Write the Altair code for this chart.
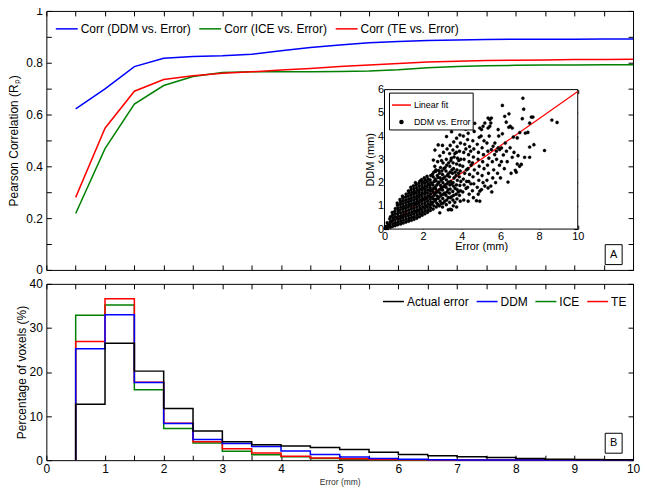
import altair as alt
import pandas as pd

FONT = "Liberation Sans"
BLUE, GREEN, RED, BLACK = "#0000ff", "#008000", "#ff0000", "#000000"

# ---------------- Panel A : correlation curves ----------------
err_levels = [0.5, 1.0, 1.5, 2.0, 2.5, 3.0, 3.5, 4.0, 4.5, 5.0,
              5.5, 6.0, 6.5, 7.0, 7.5, 8.0, 8.5, 9.0, 9.5, 10.0]
corr_ddm = [0.622, 0.699, 0.785, 0.817, 0.824, 0.827, 0.833, 0.846, 0.859, 0.868,
            0.877, 0.882, 0.886, 0.888, 0.890, 0.891, 0.891, 0.891, 0.892, 0.892]
corr_ice = [0.218, 0.468, 0.640, 0.712, 0.747, 0.762, 0.765, 0.765, 0.765, 0.766,
            0.768, 0.773, 0.781, 0.785, 0.788, 0.790, 0.791, 0.791, 0.792, 0.792]
corr_te = [0.280, 0.547, 0.690, 0.735, 0.750, 0.759, 0.765, 0.772, 0.778, 0.785,
           0.791, 0.797, 0.803, 0.806, 0.809, 0.810, 0.811, 0.812, 0.812, 0.813]
corr_names = ["Corr (DDM vs. Error)", "Corr (ICE vs. Error)", "Corr (TE vs. Error)"]
corr_colors = [BLUE, GREEN, RED]
corr_draw_order = ["Corr (ICE vs. Error)", "Corr (TE vs. Error)", "Corr (DDM vs. Error)"]

# ---------------- Inset : DDM vs. Error scatter ----------------
scatter_points = [
    (0.04, 0.03), (0.07, 0.11), (0.15, 0.05), (0.17, 0.16), (0.14, 0.27),
    (0.30, 0.08), (0.28, 0.20), (0.30, 0.32), (0.27, 0.44), (0.31, 0.53),
    (0.42, 0.12), (0.43, 0.24), (0.41, 0.36), (0.44, 0.48), (0.42, 0.60), (0.40, 0.71),
    (0.55, 0.15), (0.56, 0.27), (0.54, 0.40), (0.57, 0.52), (0.55, 0.64), (0.53, 0.76), (0.56, 0.88),
    (0.68, 0.19), (0.70, 0.31), (0.69, 0.43), (0.71, 0.55), (0.68, 0.67), (0.70, 0.79), (0.69, 0.91),
    (0.67, 1.03), (0.66, 1.12),
    (0.83, 0.22), (0.84, 0.34), (0.82, 0.46), (0.85, 0.58), (0.83, 0.70), (0.81, 0.82), (0.84, 0.94),
    (0.82, 1.06), (0.83, 1.18), (0.80, 1.27),
    (0.97, 0.26), (0.98, 0.38), (0.96, 0.50), (0.99, 0.62), (0.97, 0.74), (0.95, 0.86), (0.98, 0.98),
    (0.96, 1.10), (0.97, 1.22), (0.95, 1.34), (0.93, 1.42),
    (1.11, 0.30), (1.12, 0.42), (1.10, 0.54), (1.13, 0.66), (1.11, 0.78), (1.09, 0.90), (1.12, 1.02),
    (1.10, 1.14), (1.11, 1.26), (1.09, 1.38), (1.12, 1.50),
    (1.25, 0.34), (1.26, 0.46), (1.24, 0.58), (1.27, 0.70), (1.25, 0.82), (1.23, 0.94), (1.26, 1.06),
    (1.24, 1.18), (1.25, 1.30), (1.23, 1.42), (1.26, 1.54), (1.24, 1.64),
    (1.39, 0.38), (1.40, 0.50), (1.38, 0.62), (1.41, 0.74), (1.39, 0.86), (1.37, 0.98), (1.40, 1.10),
    (1.38, 1.22), (1.39, 1.34), (1.37, 1.46), (1.40, 1.58), (1.38, 1.70), (1.36, 1.80),
    (1.53, 0.42), (1.54, 0.54), (1.52, 0.66), (1.55, 0.78), (1.53, 0.90), (1.51, 1.02), (1.54, 1.14),
    (1.52, 1.26), (1.53, 1.38), (1.51, 1.50), (1.54, 1.62), (1.52, 1.74), (1.50, 1.86),
    (1.67, 0.47), (1.68, 0.59), (1.66, 0.71), (1.69, 0.83), (1.67, 0.95), (1.65, 1.07), (1.68, 1.19),
    (1.66, 1.31), (1.67, 1.43), (1.65, 1.55), (1.68, 1.67), (1.66, 1.79), (1.64, 1.91), (1.60, 2.00),
    (1.81, 0.53), (1.82, 0.65), (1.80, 0.77), (1.83, 0.89), (1.81, 1.01), (1.79, 1.13), (1.82, 1.25),
    (1.80, 1.37), (1.81, 1.49), (1.79, 1.61), (1.82, 1.73), (1.80, 1.85), (1.78, 1.97), (1.83, 2.06),
    (1.95, 0.60), (1.96, 0.72), (1.94, 0.84), (1.97, 0.96), (1.95, 1.08), (1.93, 1.20), (1.96, 1.32),
    (1.94, 1.44), (1.95, 1.56), (1.93, 1.68), (1.96, 1.80), (1.94, 1.92), (1.97, 2.04), (1.92, 2.13),
    (2.09, 0.66), (2.10, 0.78), (2.08, 0.90), (2.11, 1.02), (2.09, 1.14), (2.07, 1.26), (2.10, 1.38),
    (2.08, 1.50), (2.09, 1.62), (2.07, 1.74), (2.10, 1.86), (2.08, 1.98), (2.11, 2.10), (2.06, 2.20),
    (2.23, 0.72), (2.24, 0.84), (2.22, 0.96), (2.25, 1.08), (2.23, 1.20), (2.21, 1.32), (2.24, 1.44),
    (2.22, 1.56), (2.23, 1.68), (2.21, 1.80), (2.24, 1.92), (2.22, 2.04), (2.25, 2.16), (2.20, 2.27),
    (2.37, 0.80), (2.38, 0.92), (2.36, 1.04), (2.39, 1.16), (2.37, 1.28), (2.35, 1.40), (2.38, 1.52),
    (2.36, 1.64), (2.37, 1.76), (2.35, 1.88), (2.38, 2.00), (2.36, 2.12), (2.39, 2.30),
    (2.52, 0.86), (2.55, 1.00), (2.50, 1.15), (2.53, 1.30), (2.56, 1.45), (2.51, 1.60), (2.54, 1.75),
    (2.50, 1.90), (2.57, 2.05), (2.52, 2.25), (2.55, 2.45), (2.60, 2.70), (2.53, 2.97), (2.61, 3.40),
    (2.45, 1.08), (2.46, 1.38), (2.47, 1.68), (2.45, 1.98), (2.48, 2.35), (2.62, 1.22), (2.61, 1.52),
    (2.63, 1.82), (2.62, 2.15), (2.64, 2.48),
    (2.68, 0.95), (2.70, 1.12), (2.66, 1.28), (2.72, 1.42), (2.69, 1.58), (2.65, 1.72), (2.71, 1.90),
    (2.67, 2.08), (2.73, 2.30), (2.66, 2.55), (2.75, 2.90), (2.78, 3.62),
    (2.77, 1.05), (2.78, 1.32), (2.76, 1.62), (2.79, 1.98), (2.77, 2.22), (2.80, 2.52),
    (2.86, 0.70), (2.84, 1.00), (2.88, 1.20), (2.83, 1.38), (2.87, 1.55), (2.85, 1.70), (2.90, 1.88),
    (2.82, 2.02), (2.88, 2.20), (2.84, 2.40), (2.90, 2.65), (2.86, 3.15),
    (2.94, 1.10), (2.93, 1.45), (2.95, 1.78), (2.94, 2.10), (2.96, 2.50), (2.95, 2.95),
    (3.00, 0.95), (3.04, 1.12), (3.01, 1.32), (3.05, 1.50), (3.00, 1.68), (3.06, 1.82), (3.02, 2.00),
    (3.04, 2.18), (3.00, 2.35), (3.07, 2.60), (3.03, 2.85), (3.05, 3.30), (3.00, 3.60),
    (3.12, 1.20), (3.11, 1.55), (3.13, 1.90), (3.12, 2.25), (3.14, 2.65),
    (3.20, 1.05), (3.22, 1.25), (3.18, 1.45), (3.24, 1.60), (3.19, 1.80), (3.23, 1.95), (3.20, 2.12),
    (3.25, 2.30), (3.18, 2.50), (3.22, 2.75), (3.20, 3.00), (3.24, 3.45), (3.21, 3.98), (3.30, 0.83),
    (3.30, 1.35), (3.29, 1.70), (3.31, 2.02), (3.30, 2.38), (3.32, 2.85),
    (3.40, 0.85), (3.37, 1.15), (3.41, 1.35), (3.36, 1.55), (3.40, 1.72), (3.38, 1.90), (3.42, 2.05),
    (3.36, 2.25), (3.40, 2.45), (3.38, 2.70), (3.43, 2.95), (3.37, 3.25), (3.40, 3.60), (3.47, 0.83),
    (3.56, 1.00), (3.54, 1.25), (3.58, 1.45), (3.53, 1.62), (3.57, 1.85), (3.55, 2.00), (3.60, 2.20),
    (3.52, 2.40), (3.57, 2.60), (3.55, 2.85), (3.60, 3.10), (3.54, 3.40), (3.47, 4.19), (3.58, 3.75),
    (3.56, 4.41), (3.48, 1.40), (3.47, 1.95), (3.49, 2.55), (3.46, 3.05),
    (3.73, 0.95), (3.75, 1.30), (3.71, 1.50), (3.76, 1.70), (3.72, 1.90), (3.77, 2.10), (3.70, 2.30),
    (3.75, 2.55), (3.73, 2.80), (3.78, 3.05), (3.72, 3.30), (3.73, 3.91), (3.76, 3.55),
    (3.64, 1.15), (3.65, 1.75), (3.66, 2.45), (3.64, 3.25), (3.82, 1.60), (3.83, 2.40), (3.84, 2.95),
    (3.92, 1.20), (3.88, 1.45), (3.93, 1.65), (3.90, 1.88), (3.95, 2.05), (3.87, 2.25), (3.92, 2.50),
    (3.90, 2.75), (3.95, 3.00), (3.88, 3.35), (3.99, 4.48), (3.93, 3.70), (3.90, 4.05),
    (4.10, 1.25), (4.05, 1.60), (4.12, 1.90), (4.08, 2.15), (4.15, 2.40), (4.05, 2.70), (4.12, 3.00),
    (4.10, 3.30), (4.15, 3.65), (4.08, 4.00), (4.20, 4.30), (4.16, 4.48),
    (4.22, 1.75), (4.24, 2.55), (4.21, 3.45), (4.25, 2.05),
    (4.33, 1.20), (4.38, 1.50), (4.30, 1.80), (4.36, 2.05), (4.40, 2.35), (4.32, 2.60), (4.38, 2.90),
    (4.35, 3.20), (4.33, 4.12), (4.40, 3.55), (4.30, 3.85),
    (4.47, 1.95), (4.48, 2.75), (4.46, 3.35), (4.50, 4.35),
    (4.60, 1.35), (4.55, 1.65), (4.62, 1.95), (4.58, 2.25), (4.65, 2.55), (4.55, 2.85), (4.60, 3.10),
    (4.67, 4.55), (4.62, 3.45), (4.57, 3.80), (4.64, 4.20),
    (4.76, 1.22), (4.85, 1.50), (4.80, 1.80), (4.88, 2.10), (4.82, 2.40), (4.90, 2.70), (4.84, 3.00),
    (4.86, 3.30), (4.93, 4.35), (4.80, 3.65), (4.90, 3.95), (4.93, 1.63), (4.93, 1.20),
    (5.02, 1.70), (5.10, 2.00), (5.05, 2.30), (5.15, 2.60), (5.08, 2.90), (5.12, 3.20), (5.02, 4.28),
    (5.10, 4.42), (5.19, 4.56), (5.05, 3.50), (5.15, 3.80), (5.19, 1.85), (5.00, 4.00),
    (5.36, 1.77), (5.30, 2.10), (5.38, 2.40), (5.33, 2.75), (5.40, 3.05), (5.35, 3.35), (5.36, 4.78),
    (5.45, 4.71), (5.50, 4.56), (5.45, 4.42), (5.36, 4.35), (5.30, 3.70), (5.42, 4.00), (5.50, 1.85),
    (5.53, 4.78), (5.53, 3.42), (5.62, 3.56), (5.71, 3.70), (5.60, 2.20), (5.65, 2.55), (5.58, 2.90),
    (5.70, 3.20), (5.55, 1.60), (5.75, 2.00),
    (5.88, 3.49), (5.96, 3.42), (6.05, 3.49), (5.79, 3.35), (5.88, 4.28), (5.91, 4.00), (5.85, 2.40),
    (5.95, 2.75), (5.80, 3.00), (6.00, 2.20),
    (7.16, 5.63), (6.10, 5.32), (7.20, 5.16), (6.22, 4.85), (6.44, 4.96), (7.13, 4.75), (7.60, 4.82),
    (7.68, 4.82), (8.66, 4.69), (8.93, 4.59), (7.51, 4.56), (6.43, 4.38), (6.51, 4.42), (6.61, 4.35),
    (7.00, 4.15), (7.29, 4.13), (7.42, 4.16), (6.87, 3.92), (6.67, 3.96), (7.73, 3.63), (7.51, 3.53),
    (8.28, 3.38), (7.25, 3.09), (7.51, 3.09), (6.91, 3.16), (6.87, 2.80), (6.99, 2.70), (7.08, 2.78),
    (6.82, 2.45), (6.77, 2.53), (6.39, 2.02), (6.15, 3.19), (6.61, 3.09), (6.31, 3.35),
    (6.20, 2.60), (6.35, 2.90), (6.50, 3.50), (6.25, 3.70), (6.70, 3.30), (6.10, 4.10), (6.30, 4.60),
    (6.55, 2.40), (6.05, 2.90),
]
fit_err = [0.0, 10.0]
fit_ddm = [0.08, 5.92]
inset_kinds = ["Linear fit", "DDM vs. Error"]
inset_limits = {"x0": [0.0], "x1": [10.0], "y0": [0.0], "y1": [6.0]}

# ---------------- Panel B : histograms ----------------
hist_bin_left = [0.5, 1.0, 1.5, 2.0, 2.5, 3.0, 3.5, 4.0, 4.5, 5.0,
                 5.5, 6.0, 6.5, 7.0, 7.5, 8.0, 8.5, 9.0, 9.5]
hist_actual = [12.7, 26.5, 20.2, 11.7, 6.6, 4.2, 3.5, 3.2, 2.9, 2.4,
               1.8, 1.3, 1.0, 0.8, 0.6, 0.4, 0.2, 0.15, 0.1]
hist_ddm = [25.3, 33.0, 17.6, 8.3, 4.7, 3.8, 3.1, 2.1, 1.3, 0.7,
            0.4, 0.2, 0.1, 0.05, 0.05, 0.03, 0.02, 0.01, 0.01]
hist_ice = [32.9, 35.2, 16.0, 7.2, 3.9, 2.0, 1.2, 0.75, 0.4, 0.2,
            0.1, 0.05, 0.03, 0.02, 0.01, 0.01, 0.0, 0.0, 0.0]
hist_te = [26.9, 36.6, 17.7, 8.4, 4.2, 2.6, 1.6, 0.9, 0.5, 0.3,
           0.15, 0.1, 0.05, 0.03, 0.02, 0.01, 0.01, 0.0, 0.0]
hist_names = ["Actual error", "DDM", "ICE", "TE"]
hist_colors = [BLACK, BLUE, GREEN, RED]
hist_draw_order = ["ICE", "TE", "DDM", "Actual error"]

# tick positions
x_ticks_half = [0, 0.5, 1, 1.5, 2, 2.5, 3, 3.5, 4, 4.5, 5, 5.5, 6, 6.5, 7, 7.5, 8, 8.5, 9, 9.5, 10]
y_ticks_corr = [0, 0.1, 0.2, 0.3, 0.4, 0.5, 0.6, 0.7, 0.8, 0.9, 1.0]
y_ticks_pct = [0, 10, 20, 30, 40]
inset_x_ticks = [0, 2, 4, 6, 8, 10]
inset_y_ticks = [0, 1, 2, 3, 4, 5, 6]

panel_a = {"x": [9.67], "y": [0.059], "t": ["A"]}
panel_b = {"x": [9.67], "y": [3.84], "t": ["B"]}

# ---------------- layout constants ----------------
W, HT, HB = 589, 260, 177
LINE_SYM = "M-1,0H1"
DOT_SYM = "M-0.16,0A0.16,0.16,0,1,0,0.16,0A0.16,0.16,0,1,0,-0.16,0Z"
BOX_SYM = "M-0.85,-1H0.85V1H-0.85Z"


def ax(orient, values, labels=True, offset=-5, tick=5, **kw):
    d = dict(orient=orient, values=values, labels=labels, offset=offset, tickSize=tick,
             domain=False, grid=False, tickColor="black", tickWidth=1,
             labelFlush=False, labelOverlap=False, minExtent=0)
    if "title" not in kw:
        d["title"] = None
    d.update(kw)
    return alt.Axis(**d)


# ---------------- data tables ----------------
corr_rows = []
for name, vals in zip(corr_names, [corr_ddm, corr_ice, corr_te]):
    for e, v in zip(err_levels, vals):
        corr_rows.append({"err": e, "corr": v, "series": name})
corr_df = pd.DataFrame(corr_rows)

scatter_df = pd.DataFrame({"err": [p[0] for p in scatter_points],
                           "ddm": [p[1] for p in scatter_points],
                           "kind": "DDM vs. Error"})
fit_df = pd.DataFrame({"err": fit_err, "ddm": fit_ddm, "kind": "Linear fit"})
limits_df = pd.DataFrame(inset_limits)

hist_rows = []
for name, vals in zip(hist_names, [hist_actual, hist_ddm, hist_ice, hist_te]):
    hist_rows.append({"err": hist_bin_left[0], "pct": 0.0, "hseries": name, "idx": 0})
    for i, (e, v) in enumerate(zip(hist_bin_left, vals)):
        hist_rows.append({"err": e, "pct": v, "hseries": name, "idx": i + 1})
    hist_rows.append({"err": 10.0, "pct": vals[-1], "hseries": name, "idx": len(vals) + 1})
hist_df = pd.DataFrame(hist_rows)

# ---------------- Panel A main ----------------
xs_main = alt.Scale(domain=[0, 10], nice=False, zero=False)
ys_corr = alt.Scale(domain=[0, 1], nice=False)

corr_legend = alt.Legend(title=None, orient="none", legendX=8.5, legendY=6, direction="horizontal",
                         symbolType="stroke", symbolSize=484, symbolStrokeWidth=1.5,
                         labelFont=FONT, labelFontSize=12, labelColor="black",
                         labelOffset=2, columnPadding=5)

corr_base = alt.Chart(corr_df).mark_line(strokeWidth=1.5).encode(
    x=alt.X("err:Q", scale=xs_main, axis=ax("bottom", x_ticks_half, labels=False)),
    y=alt.Y("corr:Q", scale=ys_corr,
            axis=ax("left", y_ticks_corr, labelPadding=4,
                    labelExpr="round(datum.value*10)%2==0 ? toString(round(datum.value*10)/10) : ''",
                    title="Pearson Correlation (Rₚ)", titlePadding=5)),
    color=alt.Color("series:N", scale=alt.Scale(domain=corr_names, range=corr_colors),
                    legend=corr_legend),
)
corr_lines = alt.layer(*[corr_base.transform_filter(alt.datum.series == s) for s in corr_draw_order])

corr_ticks = alt.Chart(corr_df).mark_point(opacity=0).encode(
    x=alt.X("err:Q", scale=xs_main, axis=ax("top", x_ticks_half, labels=False)),
    y=alt.Y("corr:Q", scale=ys_corr, axis=ax("right", y_ticks_corr, labels=False)),
)

pa = pd.DataFrame(panel_a)
a_box = alt.Chart(pa).mark_point(shape=BOX_SYM, size=400, filled=False, color="black",
                                 strokeWidth=1, opacity=1).encode(
    x=alt.X("x:Q", scale=xs_main, axis=None), y=alt.Y("y:Q", scale=ys_corr, axis=None))
a_txt = alt.Chart(pa).mark_text(font=FONT, fontSize=11, color="black").encode(
    x=alt.X("x:Q", scale=xs_main, axis=None), y=alt.Y("y:Q", scale=ys_corr, axis=None), text="t:N")

main_a = alt.layer(corr_lines, corr_ticks, a_box, a_txt).resolve_axis(x="independent", y="independent")

# ---------------- Inset ----------------
xs_in = alt.Scale(domain=[0, 10], range=[339.5, 533.5], nice=False, zero=False)
ys_in = alt.Scale(domain=[0, 6], range=[219, 79], nice=False, zero=False)

inset_legend = alt.Legend(title=None, orient="none", legendX=344, legendY=82, direction="vertical",
                          labelFont=FONT, labelFontSize=9, labelColor="black",
                          symbolSize=361, symbolStrokeWidth=1.5, labelOffset=2, rowPadding=1,
                          padding=2, strokeColor="black", fillColor="white")
stroke_sc = alt.Scale(domain=inset_kinds, range=[RED, BLACK])
fill_sc = alt.Scale(domain=inset_kinds, range=["transparent", BLACK])
shape_sc = alt.Scale(domain=inset_kinds, range=[LINE_SYM, DOT_SYM])

frame = alt.Chart(limits_df).mark_rect(fill="white", stroke="black", strokeWidth=1).encode(
    x=alt.X("x0:Q", scale=xs_in, axis=None), x2="x1:Q",
    y=alt.Y("y0:Q", scale=ys_in, axis=None), y2="y1:Q")

fit_line = alt.Chart(fit_df).mark_line(strokeWidth=1.2).encode(
    x=alt.X("err:Q", scale=xs_in, axis=None),
    y=alt.Y("ddm:Q", scale=ys_in, axis=None),
    stroke=alt.Stroke("kind:N", scale=stroke_sc, legend=inset_legend))

pts = alt.Chart(scatter_df).mark_point(filled=True, size=400, strokeWidth=0.3, opacity=1).encode(
    x=alt.X("err:Q", scale=xs_in,
            axis=ax("bottom", inset_x_ticks, offset=-45, tick=4, labelPadding=1,
                    labelFontSize=11, title="Error (mm)", titleFontSize=11, titlePadding=0)),
    y=alt.Y("ddm:Q", scale=ys_in,
            axis=ax("left", inset_y_ticks, offset=-343.5, tick=4, labelPadding=1,
                    labelFontSize=11, title="DDM (mm)", titleFontSize=11, titlePadding=2)),
    fill=alt.Fill("kind:N", scale=fill_sc, legend=inset_legend),
    stroke=alt.Stroke("kind:N", scale=stroke_sc, legend=inset_legend),
    shape=alt.Shape("kind:N", scale=shape_sc, legend=inset_legend))

inset_ticks = alt.Chart(limits_df).mark_point(opacity=0).encode(
    x=alt.X("x1:Q", scale=xs_in, axis=ax("top", inset_x_ticks, labels=False, offset=-83, tick=4)),
    y=alt.Y("y1:Q", scale=ys_in, axis=ax("right", inset_y_ticks, labels=False, offset=-59.5, tick=4)))

inset = alt.layer(frame, fit_line, pts, inset_ticks).resolve_axis(x="independent", y="independent")

top = alt.layer(main_a, inset).resolve_scale(x="independent", y="independent").properties(
    width=W, height=HT)

# ---------------- Panel B ----------------
ys_pct = alt.Scale(domain=[0, 40], nice=False)
hist_legend = alt.Legend(title=None, orient="none", legendX=337, legendY=6, direction="horizontal",
                         symbolType="stroke", symbolSize=441, symbolStrokeWidth=1.5,
                         labelFont=FONT, labelFontSize=12, labelColor="black",
                         labelOffset=2, columnPadding=4)

hist_base = alt.Chart(hist_df).mark_line(interpolate="step-after", strokeWidth=1.5).encode(
    x=alt.X("err:Q", scale=xs_main,
            axis=ax("bottom", x_ticks_half, labelPadding=3,
                    labelExpr="datum.value % 1 == 0 ? toString(datum.value) : ''",
                    title="Error (mm)", titleFontSize=8.5, titlePadding=3, titleColor="#333333")),
    y=alt.Y("pct:Q", scale=ys_pct,
            axis=ax("left", y_ticks_pct, labelPadding=4,
                    title="Percentage of voxels (%)", titlePadding=1)),
    color=alt.Color("hseries:N", scale=alt.Scale(domain=hist_names, range=hist_colors),
                    legend=hist_legend),
    order="idx:Q",
)
hist_lines = alt.layer(*[hist_base.transform_filter(alt.datum.hseries == s) for s in hist_draw_order])

hist_ticks = alt.Chart(hist_df).mark_point(opacity=0).encode(
    x=alt.X("err:Q", scale=xs_main, axis=ax("top", x_ticks_half, labels=False)),
    y=alt.Y("pct:Q", scale=ys_pct, axis=ax("right", y_ticks_pct, labels=False)),
)

pb = pd.DataFrame(panel_b)
b_box = alt.Chart(pb).mark_point(shape=BOX_SYM, size=400, filled=False, color="black",
                                 strokeWidth=1, opacity=1).encode(
    x=alt.X("x:Q", scale=xs_main, axis=None), y=alt.Y("y:Q", scale=ys_pct, axis=None))
b_txt = alt.Chart(pb).mark_text(font=FONT, fontSize=11, color="black").encode(
    x=alt.X("x:Q", scale=xs_main, axis=None), y=alt.Y("y:Q", scale=ys_pct, axis=None), text="t:N")

bottom = alt.layer(hist_lines, hist_ticks, b_box, b_txt).resolve_axis(
    x="independent", y="independent").properties(width=W, height=HB)

chart = alt.vconcat(top, bottom, spacing=0).resolve_scale(
    color="independent", x="independent", y="independent"
).properties(
    padding={"left": -1.5, "top": -5, "right": 0, "bottom": 0}
).configure(font=FONT).configure_view(stroke="black", strokeWidth=1).configure_axis(
    labelFont=FONT, labelFontSize=12, labelColor="black",
    titleFont=FONT, titleFontSize=12, titleFontWeight="normal", titleColor="black",
)

chart.save("out.html", embed_options={"renderer": "svg", "actions": False})
